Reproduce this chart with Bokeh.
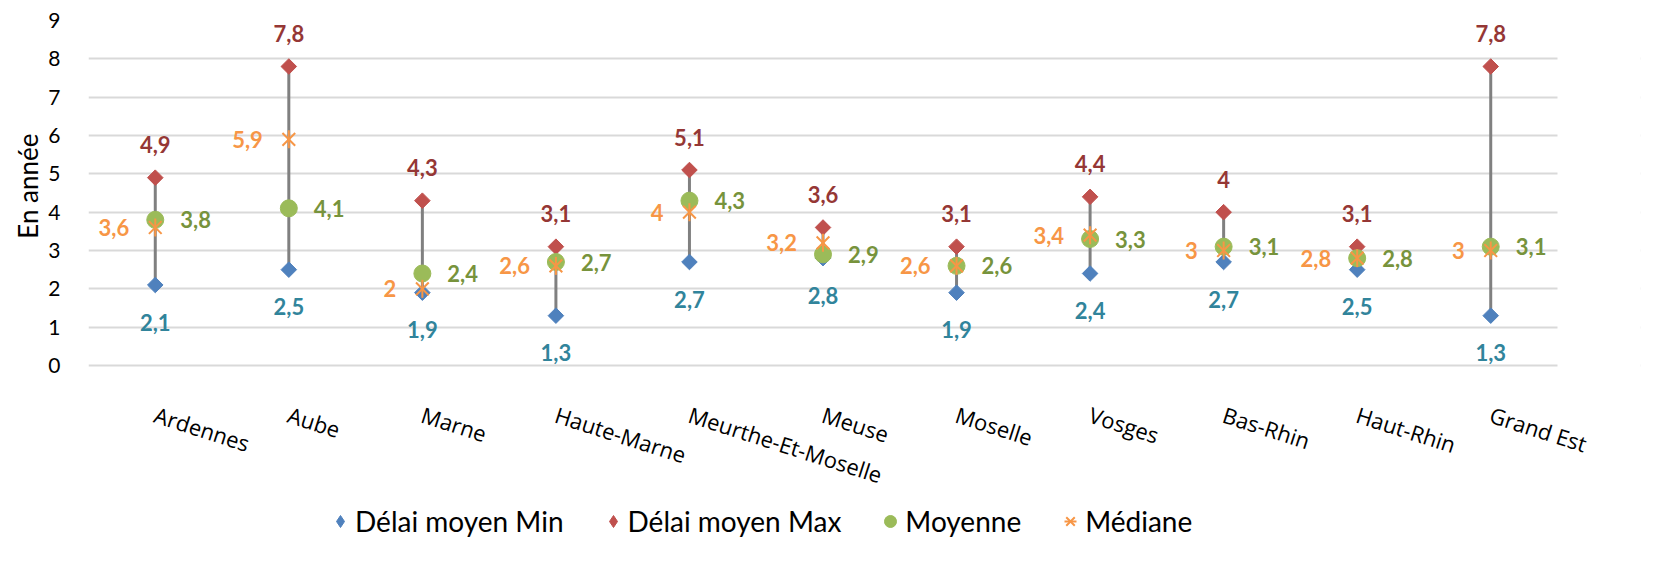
import math
from bokeh.plotting import figure
from bokeh.models import (ColumnDataSource, Legend, LegendItem, FixedTicker, Range1d,
                          BoxAnnotation, Title)
from bokeh.core.properties import value
from bokeh.embed import file_html
from bokeh.resources import INLINE

categories = ["Ardennes", "Aube", "Marne", "Haute-Marne", "Meurthe-Et-Moselle", "Meuse",
              "Moselle", "Vosges", "Bas-Rhin", "Haut-Rhin", "Grand Est"]
delai_min = [2.1, 2.5, 1.9, 1.3, 2.7, 2.8, 1.9, 2.4, 2.7, 2.5, 1.3]
delai_max = [4.9, 7.8, 4.3, 3.1, 5.1, 3.6, 3.1, 4.4, 4.0, 3.1, 7.8]
moyenne = [3.8, 4.1, 2.4, 2.7, 4.3, 2.9, 2.6, 3.3, 3.1, 2.8, 3.1]
mediane = [3.6, 5.9, 2.0, 2.6, 4.0, 3.2, 2.6, 3.4, 3.0, 2.8, 3.0]
y_ticks = list(range(0, 10))


def fmt(v):
    return ("%g" % v).replace(".", ",")


n = len(categories)
xpos = list(range(n))
src = ColumnDataSource(dict(
    x=xpos, mn=delai_min, mx=delai_max, moy=moyenne, med=mediane,
    mn_t=[fmt(v) for v in delai_min], mx_t=[fmt(v) for v in delai_max],
    moy_t=[fmt(v) for v in moyenne], med_t=[fmt(v) for v in mediane],
))

# layout: value axis 0..9 spans 345 px, categories span 1469 px;
# frame extended below (labels + legend) and right (last rotated label)
FRAME_H = 530
PX_Y = 345 / 9
y_start = -(FRAME_H - 345) / PX_Y
FRAME_W = 1552
PX_X = 1469 / n
x_end = -0.5 + FRAME_W / PX_X

p = figure(x_range=Range1d(-0.5, x_end), y_range=Range1d(y_start, 9),
           frame_width=FRAME_W, frame_height=FRAME_H,
           output_backend="svg", toolbar_location=None,
           min_border_left=88, min_border_right=4, min_border_top=20, min_border_bottom=5)
p.outline_line_color = None
p.background_fill_color = "white"

p.xgrid.grid_line_color = None
p.ygrid.grid_line_color = "#D9D9D9"
p.ygrid.grid_line_width = 2
p.yaxis.ticker = FixedTicker(ticks=y_ticks)
p.yaxis.axis_line_color = None
p.yaxis.major_tick_line_color = None
p.yaxis.minor_tick_line_color = None
p.yaxis.major_label_text_font = "Lato"
p.yaxis.major_label_text_font_size = "21px"
p.yaxis.major_label_text_color = "#000000"
p.yaxis.major_label_standoff = 22

# hide grid beyond the last category
p.add_layout(BoxAnnotation(left=n - 0.5, fill_color="white", fill_alpha=1,
                           line_color=None, level="underlay"))

p.add_layout(Title(text="En année", align="right", offset=113, text_font="Lato",
                   text_font_size="26px", text_font_style="normal",
                   text_color="#000000", standoff=4), "left")

p.xaxis.fixed_location = 0
p.xaxis.ticker = FixedTicker(ticks=xpos)
p.xaxis.major_label_overrides = {i: c for i, c in zip(xpos, categories)}
p.xaxis.axis_line_color = None
p.xaxis.major_tick_line_color = None
p.xaxis.minor_tick_line_color = None
p.xaxis.major_label_orientation = -0.31
p.xaxis.major_label_text_font = "Open Sans"
p.xaxis.major_label_text_font_size = "22px"
p.xaxis.major_label_text_color = "#000000"
p.xaxis.major_label_standoff = 42

p.segment(x0="x", y0="mn", x1="x", y1="mx", source=src, line_color="#808080", line_width=3)
p.scatter(x="x", y="mn", source=src, marker="square", angle=math.pi / 4, size=11,
          fill_color="#4F81BD", line_color="#4F81BD")
p.scatter(x="x", y="mx", source=src, marker="square", angle=math.pi / 4, size=11,
          fill_color="#C0504D", line_color="#C0504D")
r_moy = p.scatter(x="x", y="moy", source=src, marker="circle", size=17,
                  fill_color="#9BBB59", line_color="#9BBB59")
r_med = p.scatter(x="x", y="med", source=src, marker="x", size=18,
                  line_color="#F79646", line_width=2)
r_med2 = p.scatter(x="x", y="med", source=src, marker="dash", angle=math.pi / 2, size=18,
                   line_color="#F79646", line_width=2)
# legend keys for the diamond series (no visible data point)
nan = float("nan")
k_min = p.scatter(x=[nan], y=[nan], marker="diamond", size=18,
                  fill_color="#4F81BD", line_color="#4F81BD")
k_max = p.scatter(x=[nan], y=[nan], marker="diamond", size=18,
                  fill_color="#C0504D", line_color="#C0504D")

lab_font = value("Lato")
p.text(x="x", y="mn", text="mn_t", source=src, y_offset=37, text_align="center",
       text_baseline="middle", text_font=lab_font, text_font_size="22px",
       text_font_style="bold", text_color="#31849B")
p.text(x="x", y="mx", text="mx_t", source=src, y_offset=-33, text_align="center",
       text_baseline="middle", text_font=lab_font, text_font_size="22px",
       text_font_style="bold", text_color="#953735")
p.text(x="x", y="moy", text="moy_t", source=src, x_offset=25, text_align="left",
       text_baseline="middle", text_font=lab_font, text_font_size="22px",
       text_font_style="bold", text_color="#77933C")
p.text(x="x", y="med", text="med_t", source=src, x_offset=-26, text_align="right",
       text_baseline="middle", text_font=lab_font, text_font_size="22px",
       text_font_style="bold", text_color="#F79646")

legend = Legend(items=[
    LegendItem(label="Délai moyen Min", renderers=[k_min]),
    LegendItem(label="Délai moyen Max", renderers=[k_max]),
    LegendItem(label="Moyenne", renderers=[r_moy]),
    LegendItem(label="Médiane", renderers=[r_med, r_med2]),
], orientation="horizontal", location=(237, 12))
legend.label_text_font = "Lato"
legend.label_text_font_size = "28px"
legend.label_text_color = "#000000"
legend.border_line_color = None
legend.background_fill_alpha = 0
legend.spacing = 34
legend.glyph_width = 30
legend.glyph_height = 30
legend.label_standoff = 0
legend.margin = 0
legend.padding = 0
p.add_layout(legend, "center")

open("out.html", "w").write(file_html(p, INLINE))
